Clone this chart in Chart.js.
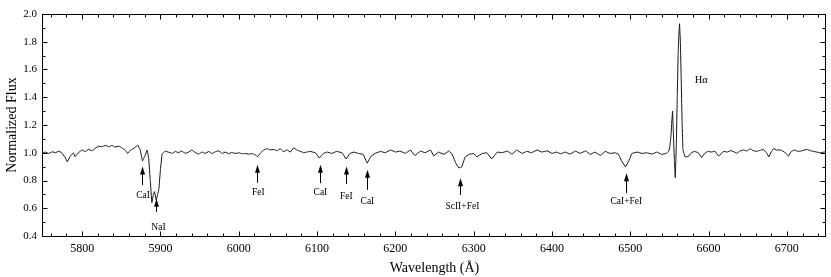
<!DOCTYPE html>
<html><head><meta charset="utf-8">
<script src="https://cdn.jsdelivr.net/npm/chart.js@4/dist/chart.umd.min.js"></script>
<style>html,body{margin:0;padding:0;background:#fff}canvas{display:block}</style>
</head><body>
<canvas id="c" width="831" height="277"></canvas>
<script>
// ---- data ----
const wavelength = [
5750,5753,5757,5762,5766,5770,5774,5778,5781,5785,5789,5791,5796,5800,5804,5808,5813,5817,5821,5825,
5830,5834,5838,5842,5847,5851,5855,5858,5862,5867,5871,5874,5877,5880,5883,5885,5887,5889,5891,5892.5,
5894.5,5896.5,5898,5900,5902,5906,5910,5915,5919,5923,5927,5932,5936,5940,5945,5949,5953,5957,5962,5966,
5970,5974,5979,5983,5987,5991,5996,6000,6004,6008,6013,6017,6021,6024,6028,6032,6036,6040,6045,6049,
6053,6057,6062,6066,6070,6074,6079,6083,6087,6091,6098,6103,6108,6113,6119,6125,6132,6137,6142,6147,
6153,6159,6164,6169,6174,6181,6187,6194,6200,6206,6213,6219,6225,6232,6238,6245,6249,6255,6262,6268,
6272,6277,6281,6285,6289,6294,6300,6304,6311,6317,6323,6330,6336,6343,6349,6355,6362,6368,6374,6381,
6387,6394,6400,6406,6411,6417,6423,6430,6436,6443,6449,6455,6462,6468,6474,6481,6485,6489,6494,6498,
6502,6509,6515,6521,6528,6534,6540,6546,6549,6550.5,6552,6553.2,6554.1,6555.2,6556.3,6557.5,6558.8,6560,6561.2,6562.3,
6563,6564,6565,6566.2,6567.3,6570,6574,6578,6582,6587,6591,6595,6599,6604,6608,6613,6619,6624,6628,6632,
6636,6640,6645,6649,6653,6657,6662,6666,6670,6674,6677,6680,6683,6687,6692,6697,6702,6705,6709,6713,
6717,6721,6726,6730,6734,6738,6743,6750
];
const flux = [
1.000,1.005,0.995,1.007,1.000,1.012,1.000,0.968,0.935,0.976,1.000,0.972,1.005,1.020,1.007,1.024,1.014,1.034,1.048,1.043,
1.053,1.043,1.053,1.041,1.048,1.034,1.020,0.995,1.020,1.036,1.055,1.024,0.940,0.976,1.020,0.960,0.800,0.640,0.700,0.720,
0.660,0.700,0.740,0.880,0.990,1.012,1.005,0.995,1.010,1.000,1.012,0.995,1.005,1.020,1.000,0.990,1.005,0.995,1.010,0.993,
1.007,1.014,0.995,1.005,0.993,1.002,0.995,1.000,0.993,0.995,0.990,0.995,0.985,0.972,1.000,1.020,1.030,1.020,1.024,1.014,
1.030,1.007,1.020,1.005,1.036,1.020,1.010,1.000,1.005,1.010,1.000,0.962,0.995,1.005,0.995,1.010,1.000,0.955,0.995,1.005,
0.995,0.988,0.925,0.976,0.995,1.010,1.000,1.020,1.005,1.012,0.995,1.020,0.980,1.012,1.000,1.020,0.976,1.005,0.988,1.012,
0.995,0.928,0.890,0.900,0.970,0.988,0.995,0.970,0.995,1.000,0.955,1.005,1.000,1.012,0.990,1.020,0.995,1.010,1.000,1.020,
1.005,1.014,0.995,1.005,0.992,1.005,0.990,1.012,0.995,1.014,0.988,1.005,0.980,1.010,0.995,1.000,0.988,0.940,0.898,0.940,
0.995,1.005,0.995,1.000,0.990,1.005,0.988,0.995,1.010,1.040,1.120,1.240,1.300,1.120,0.950,0.820,1.050,1.400,1.720,1.880,
1.930,1.800,1.550,1.220,1.020,0.970,0.972,1.000,1.010,1.000,0.965,0.995,1.010,1.005,1.012,0.975,1.010,1.005,1.016,1.008,
0.996,1.012,1.020,1.012,1.030,1.015,1.010,1.018,1.024,1.000,0.970,1.005,1.030,1.020,1.020,1.005,0.975,1.005,1.020,1.012,
1.010,1.018,1.024,1.015,1.010,1.005,1.000,1.008
];
const xTickValues = [5800,5900,6000,6100,6200,6300,6400,6500,6600,6700];
const yTickValues = [0.4,0.6,0.8,1.0,1.2,1.4,1.6,1.8,2.0];
const xAxisTitle = 'Wavelength (Å)';
const yAxisTitle = 'Normalized Flux';

// line identifications: arrow at wavelength, tip/tail in flux units, label position
const lineLabels      = ['CaI','NaI','FeI','CaI','FeI','CaI','ScII+FeI','CaI+FeI'];
const lineWavelengths = [5877, 5894.5, 6023.8, 6103.4, 6136.6, 6163.9, 6282, 6494];
const arrowTipFlux    = [0.901, 0.668, 0.913, 0.913, 0.901, 0.877, 0.817, 0.853];
const arrowTailFlux   = [0.768, 0.574, 0.783, 0.781, 0.776, 0.733, 0.696, 0.709];
const labelWavelengths= [5877.7, 5897.5, 6025, 6104.3, 6137.5, 6164.3, 6285.6, 6495];
const labelFlux       = [0.690, 0.462, 0.714, 0.714, 0.683, 0.647, 0.611, 0.649];
const emissionLabel = 'Hα';
const emissionLabelPos = [6590.6, 1.521];

const SERIF = "'Liberation Serif', serif";

const framePlugin = {
  id: 'frame',
  afterDraw(chart) {
    const ctx = chart.ctx, a = chart.chartArea;
    const xs = chart.scales.x, ys = chart.scales.y;
    const L = a.left - 0.5, R = a.right - 0.5, T = a.top + 0.5, B = a.bottom + 0.5;
    ctx.save();
    ctx.strokeStyle = '#000';
    ctx.lineWidth = 1;
    ctx.strokeRect(L, T, R - L, B - T);
    ctx.beginPath();
    for (let v = 5760; v <= 6740; v += 20) {
      const px = Math.round(xs.getPixelForValue(v)) + 0.5;
      const len = (v % 100 === 0) ? 5 : 3;
      ctx.moveTo(px, B); ctx.lineTo(px, B - len);
      ctx.moveTo(px, T); ctx.lineTo(px, T + len);
    }
    for (let k = 4; k <= 20; k++) {
      const v = k / 10;
      const py = Math.round(ys.getPixelForValue(v)) + 0.5;
      const len = (k % 2 === 0) ? 5 : 3;
      ctx.moveTo(L, py); ctx.lineTo(L + len, py);
      ctx.moveTo(R, py); ctx.lineTo(R - len, py);
    }
    ctx.stroke();
    ctx.restore();
  }
};

const annotPlugin = {
  id: 'annot',
  afterDatasetsDraw(chart) {
    const ctx = chart.ctx;
    const xs = chart.scales.x, ys = chart.scales.y;
    ctx.save();
    ctx.strokeStyle = '#000';
    ctx.fillStyle = '#000';
    ctx.lineWidth = 1;
    for (let i = 0; i < lineLabels.length; i++) {
      const px = Math.round(xs.getPixelForValue(lineWavelengths[i])) + 0.5;
      const tip = ys.getPixelForValue(arrowTipFlux[i]);
      const tail = ys.getPixelForValue(arrowTailFlux[i]);
      ctx.beginPath();
      ctx.moveTo(px, tail); ctx.lineTo(px, tip + 6);
      ctx.stroke();
      ctx.beginPath();
      ctx.moveTo(px, tip);
      ctx.lineTo(px - 2.5, tip + 8);
      ctx.lineTo(px + 2.5, tip + 8);
      ctx.closePath();
      ctx.fill();
      ctx.font = '9.5px ' + SERIF;
      ctx.textAlign = 'center';
      ctx.textBaseline = 'middle';
      ctx.fillText(lineLabels[i], xs.getPixelForValue(labelWavelengths[i]), ys.getPixelForValue(labelFlux[i]));
    }
    ctx.font = '10.5px ' + SERIF;
    ctx.textAlign = 'center';
    ctx.textBaseline = 'middle';
    ctx.fillText(emissionLabel, xs.getPixelForValue(emissionLabelPos[0]), ys.getPixelForValue(emissionLabelPos[1]));
    ctx.restore();
  }
};

new Chart(document.getElementById('c'), {
  type: 'line',
  data: {
    datasets: [{
      data: wavelength.map((w, i) => ({x: w, y: flux[i]})),
      borderColor: '#111',
      borderWidth: 1,
      pointRadius: 0,
      tension: 0.0001,
      fill: false
    }]
  },
  options: {
    responsive: false,
    animation: false,
    devicePixelRatio: 1,
    layout: {padding: {top: 14, right: 5, left: 0, bottom: 0}},
    plugins: {legend: {display: false}, tooltip: {enabled: false}},
    scales: {
      x: {
        type: 'linear', min: 5750, max: 6750,
        afterBuildTicks: s => { s.ticks = xTickValues.map(v => ({value: v})); },
        afterFit: s => { s.height = 41; },
        grid: {display: false, drawTicks: false},
        border: {display: false},
        ticks: {font: {family: SERIF, size: 12}, color: '#000', padding: 6, maxRotation: 0, autoSkip: false,
                callback: v => String(v)},
        title: {display: true, text: xAxisTitle, font: {family: SERIF, size: 14}, color: '#000', padding: {top: 3, bottom: 0}}
      },
      y: {
        type: 'linear', min: 0.4, max: 2.0,
        afterBuildTicks: s => { s.ticks = yTickValues.map(v => ({value: v})); },
        afterFit: s => { s.width = 43; },
        grid: {display: false, drawTicks: false},
        border: {display: false},
        ticks: {font: {family: SERIF, size: 11}, color: '#000', padding: 6, callback: v => Number(v).toFixed(1)},
        title: {display: true, text: yAxisTitle, font: {family: SERIF, size: 14}, color: '#000', padding: {top: 4, bottom: 0}}
      }
    }
  },
  plugins: [framePlugin, annotPlugin]
});
</script>
</body></html>
